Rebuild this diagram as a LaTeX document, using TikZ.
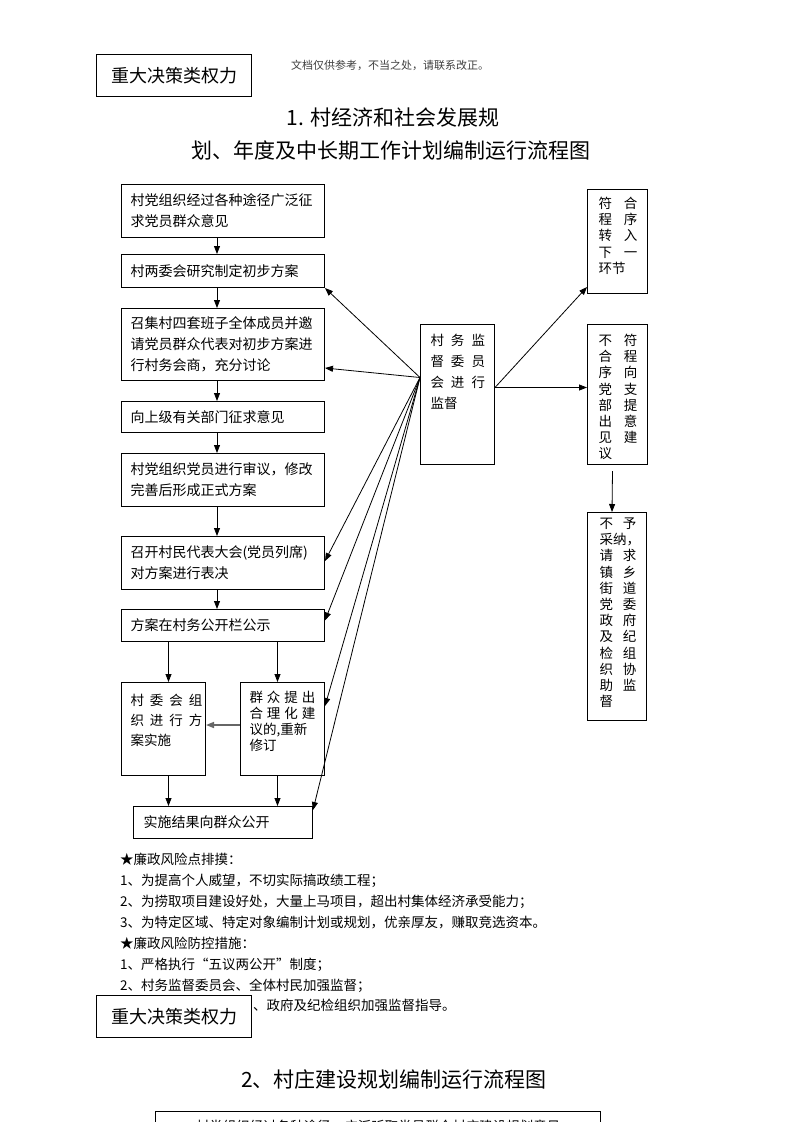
\documentclass[tikz,border=0pt]{standalone}
\usepackage{fontspec}
\setmainfont{Noto Sans CJK SC}
\usetikzlibrary{%
  calc,arrows.meta}
\tikzset {>={Triangle[length=8pt,width=6pt]}}
\tikzset{
  stepbox/.style={draw, line width=1pt, anchor=north west, align=left,
    inner xsep=9pt, inner ysep=0pt, font=\fontsize{14}{21}\selectfont},
  colbox/.style={draw, line width=1pt, anchor=north west, align=left,
    inner ysep=0pt, font=\fontsize{13.5}{16.2}\selectfont},
  kindbox/.style={draw, line width=1pt, anchor=north west, fill=white,
    minimum width=155pt, minimum height=42pt, font=\fontsize{18}{20}\selectfont},
  link/.style={->, line width=0.8pt},
}
\newcommand{\wgap}[1][7pt]{\kern#1}
\newcommand{\cgap}[1][12pt]{\kern#1}

\begin{document}
\begin{tikzpicture}[x=1pt,y=-1pt]
\useasboundingbox (0,0) rectangle (793,1122);
\fill[white] (0,0) rectangle (793,1122);
\node[kindbox] (kind) at (96,54) {重大决策类权力};
\node[font=\fontsize{11}{13}\selectfont, text=black!75] (note) at (390,65)
  {文档仅供参考，不当之处，请联系改正。};
\node[font=\fontsize{21}{24}\selectfont] (title) at (393,118) {1. 村经济和社会发展规};
\node[font=\fontsize{21}{24}\selectfont] (title2) at (391,150) {划、年度及中长期工作计划编制运行流程图};
% left column
\node[stepbox, text width=185pt, minimum height=53pt] (solicit) at (121,184)
  {村党组织经过各种途径广泛征\\求党员群众意见};
\node[stepbox, text width=185pt, minimum height=33pt] (draft) at (121,254)
  {村两委会研究制定初步方案};
\node[stepbox, text width=185pt, minimum height=72pt] (consult) at (121,308)
  {召集村四套班子全体成员并邀\\请党员群众代表对初步方案进\\行村务会商，充分讨论};
\node[stepbox, text width=185pt, minimum height=31pt] (upper) at (121,401)
  {向上级有关部门征求意见};
\node[stepbox, text width=185pt, minimum height=53pt] (review) at (121,453)
  {村党组织党员进行审议，修改\\完善后形成正式方案};
\node[stepbox, text width=185pt, minimum height=53pt] (vote) at (121,536)
  {召开村民代表大会(党员列席)\\对方案进行表决};
\node[stepbox, text width=185pt, minimum height=32pt] (notice) at (121,609)
  {方案在村务公开栏公示};
\node[stepbox, text width=66pt, text height=23pt, text depth=70pt,
  font=\fontsize{13.5}{20}\selectfont] (implement) at (121,682)
  {村\wgap[6pt]委\wgap[6pt]会\wgap[6pt]组\\织\wgap[6pt]进\wgap[6pt]行\wgap[6pt]方\\案实施};
\node[stepbox, text width=66pt, text height=20pt, text depth=73pt,
  font=\fontsize{13.5}{16}\selectfont] (revise) at (240,682)
  {群\wgap[4pt]众\wgap[4pt]提\wgap[4pt]出\\合\wgap[4pt]理\wgap[4pt]化\wgap[4pt]建\\议的,重新\\修订};
\node[stepbox, text width=159pt, inner xsep=10pt, minimum height=32pt] (result) at (133,806)
  {实施结果向群众公开};
% supervision
\node[colbox, text width=54pt, inner xsep=10pt, text height=21pt, text depth=119pt,
  font=\fontsize{13.5}{21}\selectfont] (super) at (420,324)
  {村\wgap 务\wgap 监\\督\wgap 委\wgap 员\\会\wgap 进\wgap 行\\监督};
\node[colbox, text width=38pt, inner xsep=11pt, text height=19pt, text depth=85pt] (pass) at (587,189)
  {符\cgap 合\\程\cgap 序\\转\cgap 入\\下\cgap 一\\环节};
\node[colbox, text width=38pt, inner xsep=11pt, text height=21pt, text depth=119pt] (advise) at (587,324)
  {不\cgap 符\\合\cgap 程\\序\cgap 向\\党\cgap 支\\部\cgap 提\\出\cgap 意\\见\cgap 建\\议};
\node[colbox, text width=35pt, inner xsep=12pt, text height=16pt, text depth=192pt] (appeal) at (587,512)
  {不\cgap[10pt]予\\采纳，\\请\cgap[10pt]求\\镇\cgap[10pt]乡\\街\cgap[10pt]道\\党\cgap[10pt]委\\政\cgap[10pt]府\\及\cgap[10pt]纪\\检\cgap[10pt]组\\织\cgap[10pt]协\\助\cgap[10pt]监\\督};
% arrows
\foreach \a/\b in {solicit/draft, draft/consult, consult/upper,
                   upper/review, review/vote, vote/notice}
  \draw[link] ([xshift=-6pt]\a.south) -- ([xshift=-6pt]\b.north);
\draw[link] ([xshift=5pt]implement.north |- notice.south) -- ([xshift=5pt]implement.north);
\draw[link] ([xshift=-5pt]revise.north |- notice.south) -- ([xshift=-5pt]revise.north);
\draw[link] ([xshift=5pt]implement.south) -- ([xshift=5pt]implement.south |- result.north);
\draw[link] ([xshift=-5pt]revise.south) -- ([xshift=-5pt]revise.south |- result.north);
\draw[link,draw=black!60,line width=1.5pt] ([yshift=4pt]revise.west) -- ([yshift=4pt]implement.east);
\coordinate (mleft) at ([yshift=17pt]super.west);
\coordinate (mright) at ([yshift=7pt]super.east);
\draw[link] (mleft) -- (draft.south east);
\draw[link] (mleft) -- ([yshift=13pt]consult.south east);
\draw[link] (mleft) -- ([yshift=2pt]vote.east);
\draw[link] (mleft) -- ([yshift=5pt]notice.east);
\draw[link] (mleft) -- ([yshift=23pt]revise.east);
\draw[link] (mleft) -- ([yshift=-4pt]result.north east);
\draw[link] (mright) -- ([yshift=7pt]pass.south west);
\draw[link] (mright) -- (mright -| advise.west);
\draw[link] ([xshift=-5pt,yshift=-6pt]advise.south) -- ([xshift=-5pt]appeal.north);
% risk text
\node[anchor=north west, align=left, text width=480pt, inner sep=0pt,
  font=\fontsize{13.5}{21}\selectfont] (risk) at (120,853)
  {★廉政风险点排摸：\\1、为提高个人威望，不切实际搞政绩工程；\\2、为捞取项目建设好处，大量上马项目，超出村集体经济承受能力；\\3、为特定区域、特定对象编制计划或规划，优亲厚友，赚取竞选资本。\\★廉政风险防控措施：\\1、严格执行“五议两公开”制度；\\2、村务监督委员会、全体村民加强监督；};
\node[anchor=base west, inner sep=0pt, font=\fontsize{13.5}{21}\selectfont] (risk2) at (253,1010)
  {、政府及纪检组织加强监督指导。};
\node[kindbox] (kind2) at (96,995) {重大决策类权力};
\node[font=\fontsize{21}{24}\selectfont] (title3) at (394,1080) {2、村庄建设规划编制运行流程图};
\node[draw, line width=1pt, anchor=north west, minimum width=445pt, inner ysep=8pt,
  text height=12pt, text depth=20pt, font=\fontsize{13.5}{16}\selectfont] (plan) at (155,1111)
  {村党组织经过各种途径，广泛听取党员群众村庄建设规划意见};
\end{tikzpicture}
\end{document}
